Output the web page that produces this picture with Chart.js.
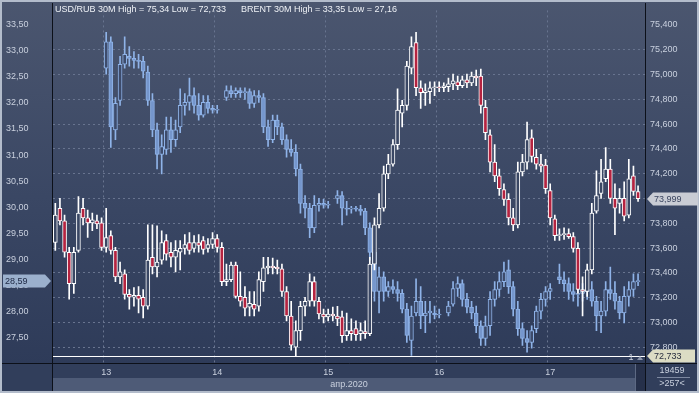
<!DOCTYPE html>
<html><head><meta charset="utf-8">
<script src="https://cdn.jsdelivr.net/npm/chart.js@4.4.1/dist/chart.umd.min.js"></script>
<style>html,body{margin:0;padding:0;background:#2c3957;}canvas{display:block}</style>
</head><body>
<canvas id="c" width="699" height="393"></canvas>
<script>
// hourly slots, hours counted from 13 Apr 2020 00:00
const hours = [-11,-10,-9,-8,-7,-6,-5,-4,-3,-2,-1,0,1,2,3,4,5,6,7,8,9,10,11,12,13,14,15,16,17,18,19,20,21,22,23,24,25,26,27,28,29,30,31,32,33,34,35,36,37,38,39,40,41,42,43,44,45,46,47,48,49,50,51,52,53,54,55,56,57,58,59,60,61,62,63,64,65,66,67,68,69,70,71,72,73,74,75,76,77,78,79,80,81,82,83,84,85,86,87,88,89,90,91,92,93,94,95,96,97,98,99,100,101,102,103,104,105,106,107,108,109,110,111,112,113,114,115,116];
const dayStarts = [0,24,48,72,96];
const dayLabels = ['13','14','15','16','17'];
const monthLabel = 'апр.2020';
const brentTicks = [27.5,28,28.5,29,29.5,30,30.5,31,31.5,32,32.5,33,33.5];
const usdTicks = [72.8,73,73.2,73.4,73.6,73.8,74,74.2,74.4,74.6,74.8,75,75.2,75.4];
const usdName = 'USD/RUB 30M';
const brentName = 'BRENT 30M';
const barCountText = '>257<';
const volumeText = '19459';

const usdOpen = [
73.645,73.921,73.819,73.566,73.313,73.582,73.921,73.843,73.803,73.819,
73.803,73.606,73.700,73.582,73.368,73.392,73.226,73.203,73.218,73.203,
73.131,73.526,73.447,73.503,73.661,73.566,73.526,73.566,73.598,73.645,
73.598,73.645,73.661,73.598,73.629,73.677,73.606,73.329,73.345,73.463,
73.210,73.203,73.124,73.147,73.131,73.329,73.440,73.455,73.447,73.432,
73.250,73.052,72.800,72.934,73.131,73.171,73.329,73.171,73.068,73.045,
73.068,73.052,73.045,72.894,72.934,72.950,72.910,72.926,72.910,73.471,
73.787,73.921,74.198,74.277,74.435,74.688,74.751,75.051,75.257,74.893,
74.854,74.862,74.893,74.901,74.893,74.901,74.925,74.941,74.909,74.956,
74.933,74.988,74.988,74.735,74.514,74.293,74.182,74.072,73.993,73.843,
73.787,74.214,74.293,74.490,74.332,74.277,74.269,74.064,73.835,73.700,
73.708,73.716,73.692,73.598,73.266,73.250,73.424,73.898,74.040,74.159,
74.237,74.001,73.961,74.001,73.866,74.182,74.056];
const usdHigh = [
73.961,74.001,73.866,73.606,73.606,74.016,74.001,73.906,73.882,73.866,
73.843,73.921,73.740,73.606,73.487,73.424,73.266,73.282,73.289,73.266,
73.787,73.787,73.779,73.740,73.708,73.645,73.661,73.661,73.708,73.724,
73.700,73.708,73.692,73.677,73.724,73.708,73.645,73.471,73.487,73.487,
73.408,73.289,73.250,73.250,73.408,73.526,73.526,73.519,73.503,73.471,
73.289,73.171,73.013,73.171,73.203,73.392,73.368,73.203,73.108,73.108,
73.124,73.131,73.092,73.076,73.029,73.013,72.997,73.013,73.526,73.843,
74.040,74.261,74.356,74.475,74.885,74.791,75.106,75.304,75.340,74.948,
74.925,74.941,74.941,74.941,74.933,74.972,75.004,74.988,74.988,75.004,
75.020,75.035,75.043,74.791,74.554,74.435,74.237,74.119,74.040,73.921,
74.293,74.356,74.617,74.554,74.396,74.356,74.316,74.119,73.866,73.756,
73.763,73.756,73.724,73.645,73.368,73.471,73.961,74.222,74.316,74.411,
74.316,74.119,74.079,74.135,74.316,74.261,74.103];
const usdLow = [
73.582,73.787,73.526,73.187,73.234,73.566,73.787,73.685,73.740,73.756,
73.582,73.566,73.550,73.329,73.313,73.187,73.108,73.131,73.076,73.037,
73.108,73.392,73.368,73.471,73.503,73.447,73.408,73.424,73.550,73.550,
73.566,73.566,73.550,73.566,73.598,73.566,73.297,73.297,73.329,73.195,
73.131,73.052,73.052,73.052,73.092,73.250,73.392,73.392,73.392,73.210,
73.013,72.776,72.733,72.855,73.052,73.131,73.131,73.029,72.997,73.013,
73.013,72.974,72.839,72.855,72.855,72.855,72.855,72.871,72.894,73.424,
73.763,73.898,74.159,74.261,74.396,74.577,74.712,75.004,74.830,74.727,
74.751,74.767,74.830,74.862,74.862,74.862,74.877,74.877,74.893,74.893,
74.909,74.909,74.688,74.475,74.214,74.135,74.024,73.945,73.787,73.740,
73.763,74.182,74.237,74.293,74.237,74.214,74.040,73.787,73.661,73.661,
73.669,73.677,73.566,73.234,73.052,73.210,73.392,73.882,74.001,74.135,
73.961,73.708,73.882,73.819,73.843,74.024,73.977];
const usdClose = [
73.866,73.819,73.566,73.313,73.566,73.882,73.843,73.803,73.827,73.795,
73.606,73.685,73.582,73.368,73.408,73.226,73.203,73.218,73.187,73.131,
73.503,73.447,73.487,73.645,73.550,73.526,73.582,73.598,73.629,73.582,
73.645,73.621,73.590,73.629,73.677,73.606,73.329,73.345,73.463,73.210,
73.171,73.116,73.155,73.108,73.345,73.440,73.455,73.440,73.432,73.250,
73.052,72.816,72.934,73.131,73.171,73.329,73.171,73.068,73.045,73.068,
73.052,73.029,72.894,72.934,72.910,72.902,72.934,72.910,73.471,73.787,
73.921,74.198,74.277,74.435,74.712,74.751,75.067,75.225,74.893,74.854,
74.869,74.893,74.901,74.893,74.909,74.925,74.948,74.909,74.956,74.933,
74.988,74.972,74.751,74.530,74.293,74.182,74.079,73.993,73.843,73.787,
74.214,74.293,74.475,74.340,74.277,74.261,74.079,73.843,73.700,73.708,
73.716,73.692,73.598,73.266,73.250,73.424,73.882,74.024,74.135,74.237,
74.001,73.921,74.001,73.858,74.159,74.056,73.999];

const brentOpen = [
null,null,null,null,null,null,null,null,null,null,null,
32.664,33.170,31.482,32.045,32.739,32.889,32.852,32.814,32.795,32.589,
32.045,31.482,31.013,31.107,31.482,31.295,31.539,31.951,32.007,32.139,
31.951,31.764,32.007,31.895,31.857,null,32.101,32.233,32.176,32.233,
32.195,32.214,31.989,32.139,32.101,31.539,31.295,31.670,31.539,31.295,
31.107,31.051,30.732,30.075,29.981,29.606,30.038,30.075,30.038,null,
30.169,30.225,29.981,29.963,29.981,29.963,29.925,29.606,29.137,28.387,
28.669,28.387,28.481,28.425,28.350,28.050,27.449,27.974,28.199,27.918,
27.974,27.974,27.937,null,27.974,28.143,28.444,28.537,28.237,28.087,
27.974,27.731,27.487,27.731,28.237,28.425,28.575,28.800,28.481,28.050,
27.674,27.487,27.412,27.674,28.012,28.237,28.387,null,28.669,28.612,
28.537,28.387,28.331,28.350,28.387,28.425,28.199,27.918,28.012,28.425,
28.350,28.199,27.974,28.293,28.425,28.575];
const brentHigh = [
null,null,null,null,null,null,null,null,null,null,null,
33.350,33.264,32.101,32.889,33.264,33.077,32.983,32.927,32.889,32.702,
32.176,31.614,31.389,31.726,31.726,31.670,32.270,32.176,32.476,32.289,
32.176,32.139,32.139,31.951,31.951,null,32.326,32.326,32.289,32.289,
32.289,32.270,32.233,32.233,32.176,31.670,31.764,31.764,31.614,31.389,
31.295,31.201,30.826,30.225,30.075,30.225,30.169,30.150,30.113,null,
30.319,30.300,30.113,30.019,30.019,30.038,29.981,29.700,29.231,28.856,
28.762,28.575,28.612,28.575,28.425,28.162,28.106,28.631,28.481,28.199,
28.199,28.106,28.050,null,28.199,28.575,28.669,28.612,28.350,28.199,
28.106,27.824,27.918,28.387,28.575,28.762,28.950,28.987,28.575,28.199,
27.787,27.637,27.731,28.106,28.350,28.481,28.537,null,28.912,28.762,
28.650,28.537,28.481,28.537,28.518,28.575,28.293,28.199,28.575,28.856,
28.575,28.293,28.481,28.575,28.725,28.725];
const brentLow = [
null,null,null,null,null,null,null,null,null,null,null,
32.551,31.145,31.295,31.951,32.664,32.702,32.664,32.664,32.476,31.951,
31.351,30.732,30.638,31.013,31.051,31.163,31.426,31.764,31.857,31.801,
31.670,31.726,31.801,31.801,31.801,null,32.045,32.101,32.101,32.101,
32.064,31.895,31.914,32.007,31.426,31.163,31.238,31.389,31.201,30.957,
30.976,30.601,29.888,29.794,29.419,29.513,29.925,29.981,29.981,null,
30.075,29.663,29.850,29.888,29.925,29.850,29.475,28.987,28.199,27.974,
28.199,28.293,28.350,28.199,27.974,27.412,27.160,27.918,27.674,27.599,
27.787,27.862,27.881,null,27.918,28.106,28.293,28.106,27.974,27.862,
27.599,27.356,27.356,27.543,28.106,28.293,28.481,28.350,27.918,27.543,
27.356,27.224,27.299,27.599,27.862,28.106,28.237,null,28.537,28.387,
28.237,28.199,28.106,28.199,28.237,28.106,27.637,27.599,27.918,28.237,
28.050,27.862,27.787,28.106,28.293,28.500];
const brentClose = [
null,null,null,null,null,null,null,null,null,null,null,
33.170,31.539,31.989,32.739,32.927,32.852,32.814,32.795,32.608,32.045,
31.482,31.013,31.163,31.482,31.295,31.482,31.951,32.007,32.139,31.951,
31.764,32.007,31.895,31.857,31.876,null,32.233,32.176,32.233,32.195,
32.214,31.989,32.139,32.101,31.539,31.295,31.670,31.539,31.295,31.107,
31.051,30.732,30.075,29.981,29.606,30.038,30.075,30.038,30.057,null,
30.225,29.981,29.963,29.981,29.963,29.925,29.606,29.137,28.387,28.669,
28.387,28.481,28.425,28.350,28.050,27.543,27.918,28.199,27.918,27.974,
28.012,27.937,27.956,null,28.106,28.444,28.537,28.237,28.087,27.974,
27.731,27.487,27.731,28.237,28.425,28.575,28.762,28.481,28.050,27.674,
27.487,27.412,27.637,28.012,28.237,28.387,28.444,null,28.612,28.537,
28.387,28.331,28.350,28.387,28.425,28.199,27.918,28.012,28.425,28.350,
28.199,27.974,28.293,28.425,28.575,28.590];

// ---------- helpers ----------
const fmt = (v, d) => v.toFixed(d).replace('.', ',');
const fmtTrim = v => v.toFixed(3).replace(/0+$/, '').replace(/\.$/, '').replace('.', ',');
const valid = a => a.filter(v => v != null);
const lastOf = a => valid(a)[valid(a).length - 1];
const usdHi = Math.max(...valid(usdHigh)), usdLo = Math.min(...valid(usdLow));
const brHi = Math.max(...valid(brentHigh)), brLo = Math.min(...valid(brentLow));
const wick = (lo, hi) => lo.map((l, i) => l == null ? null : [l, hi[i]]);
const body = (o, c) => o.map((v, i) => v == null ? null : [Math.min(v, c[i]), Math.max(v, c[i])]);
const bodyColors = (o, c, down, up) => o.map((v, i) => (v != null && c[i] < v) ? down : up);

const FAM = '"Liberation Sans", Arial, sans-serif';
const TXT = '#c9d0de';
const GRID = '#68748f';
const font = { family: FAM, size: 9 };

const decor = {
  id: 'decor',
  beforeDraw(chart) {
    const { ctx, width, height, chartArea: a } = chart;
    ctx.save();
    const g = ctx.createLinearGradient(0, 0, 0, height);
    g.addColorStop(0, '#4b566f');
    g.addColorStop(0.5, '#3a4764');
    g.addColorStop(1, '#2c3957');
    ctx.fillStyle = g;
    ctx.fillRect(0, 0, width, height);
    ctx.fillStyle = '#313e5b';
    ctx.fillRect(0, a.bottom, width, height - a.bottom);
    ctx.fillStyle = '#4e5b77';
    ctx.fillRect(a.left, a.bottom + 15, a.right - a.left, height - a.bottom - 17);
    ctx.fillStyle = '#26304a';
    ctx.fillRect(a.right - 9, a.bottom, 9, height - a.bottom - 2);
    ctx.fillStyle = '#5d6983';
    ctx.fillRect(a.right - 10, a.bottom, 1, height - a.bottom - 2);
    ctx.restore();
  },
  afterDatasetsDraw(chart) {
    const { ctx, chartArea: a, scales } = chart;
    const y = Math.round(scales.yR.getPixelForValue(usdLo)) + 0.5;
    ctx.save();
    ctx.strokeStyle = '#ffffff';
    ctx.lineWidth = 1;
    ctx.beginPath(); ctx.moveTo(a.left, y); ctx.lineTo(a.right, y); ctx.stroke();
    ctx.restore();
  },
  afterDraw(chart) {
    const { ctx, width, height, chartArea: a, scales } = chart;
    ctx.save();
    // black frame lines
    ctx.strokeStyle = '#0c1019';
    ctx.lineWidth = 1;
    ctx.beginPath();
    ctx.moveTo(a.left - 0.5, 3); ctx.lineTo(a.left - 0.5, height - 2);
    ctx.moveTo(a.right + 0.5, 3); ctx.lineTo(a.right + 0.5, height - 2);
    ctx.moveTo(2, a.bottom + 0.5); ctx.lineTo(width - 2, a.bottom + 0.5);
    ctx.stroke();
    // outer light frame
    ctx.strokeStyle = '#b3bccb';
    ctx.lineWidth = 2;
    ctx.strokeRect(1, 1, width - 2, height - 2);

    ctx.font = '9px ' + FAM;
    ctx.textBaseline = 'middle';
    // titles
    ctx.fillStyle = '#eef1f6';
    ctx.textAlign = 'left';
    ctx.fillText(usdName + ' High = ' + fmtTrim(usdHi) + ' Low = ' + fmtTrim(usdLo), a.left + 2, 10);
    ctx.fillText(brentName + ' High = ' + fmtTrim(brHi) + ' Low = ' + fmtTrim(brLo), a.left + 188, 10);

    // month label
    ctx.fillStyle = TXT;
    ctx.textAlign = 'center';
    ctx.fillText(monthLabel, (a.left + a.right) / 2, a.bottom + 22);
    // right-bottom panel
    const cx = (a.right + width) / 2;
    ctx.fillText(volumeText, cx, a.bottom + 8);
    ctx.fillText(barCountText, cx, a.bottom + 21);
    ctx.fillStyle = '#7d88a0';
    ctx.fillRect(a.right + 12, a.bottom + 14, 33, 1);
    // "1" marker
    ctx.fillStyle = TXT;
    ctx.fillText('1', a.right - 14, a.bottom - 5);
    ctx.fillStyle = '#8a94aa';
    ctx.beginPath();
    ctx.moveTo(a.right - 8, a.bottom - 3); ctx.lineTo(a.right - 5, a.bottom - 7); ctx.lineTo(a.right - 2, a.bottom - 3);
    ctx.closePath(); ctx.fill();

    // price tags
    const tag = (tip, far, yc, fill, text, tx, tcol) => {
      const h = 13, dir = far > tip ? 1 : -1;
      ctx.beginPath();
      ctx.moveTo(tip, yc);
      ctx.lineTo(tip + dir * 6, yc - h / 2);
      ctx.lineTo(far, yc - h / 2);
      ctx.lineTo(far, yc + h / 2);
      ctx.lineTo(tip + dir * 6, yc + h / 2);
      ctx.closePath();
      ctx.fillStyle = fill; ctx.fill();
      ctx.fillStyle = tcol; ctx.textAlign = 'left';
      ctx.fillText(text, tx, yc + 0.5);
    };
    const yB = Math.round(scales.yL.getPixelForValue(lastOf(brentClose)));
    tag(a.left - 2, 3, yB, '#9bb0cd', fmt(lastOf(brentClose), 2), 5, '#1d2742');
    const yU = Math.round(scales.yR.getPixelForValue(lastOf(usdClose)));
    tag(a.right + 2, width - 1, yU, '#c9ccd4', fmt(lastOf(usdClose), 3), a.right + 9, '#3b4560');
    const yLo = Math.round(scales.yR.getPixelForValue(usdLo));
    tag(a.right + 2, width - 4, yLo, '#dcdcc4', fmt(usdLo, 3), a.right + 9, '#2a2f40');
    ctx.restore();
  }
};

new Chart(document.getElementById('c'), {
  type: 'bar',
  data: {
    labels: hours,
    datasets: [
      { label: 'USD body', data: body(usdOpen, usdClose), yAxisID: 'yR', barThickness: 4, grouped: false,
        borderWidth: 1, borderSkipped: false, borderColor: '#ffffff', minBarLength: 1,
        backgroundColor: bodyColors(usdOpen, usdClose, '#b52340', '#3a4764') },
      { label: 'USD wick', data: wick(usdLow, usdHigh), yAxisID: 'yR', barThickness: 1, grouped: false,
        borderWidth: 0, backgroundColor: '#ffffff' },
      { label: 'Brent body', data: body(brentOpen, brentClose), yAxisID: 'yL', barThickness: 4, grouped: false,
        borderWidth: 1, borderSkipped: false, borderColor: '#8fb3e8', minBarLength: 1,
        backgroundColor: bodyColors(brentOpen, brentClose, '#7596cc', '#3d4b6b') },
      { label: 'Brent wick', data: wick(brentLow, brentHigh), yAxisID: 'yL', barThickness: 1, grouped: false,
        borderWidth: 0, backgroundColor: '#8fb3e8' }
    ]
  },
  options: {
    responsive: false,
    animation: false,
    devicePixelRatio: 1,
    layout: { padding: { left: 6, right: 0, top: 3, bottom: 0 } },
    plugins: { legend: { display: false }, tooltip: { enabled: false } },
    scales: {
      x: {
        type: 'category', offset: true,
        grid: { offset: true, drawTicks: false, lineWidth: 1,
          color: c => (c.tick && dayStarts.includes(hours[c.index])) ? GRID : 'rgba(0,0,0,0)' },
        border: { display: false, dash: [2, 3] },
        ticks: { autoSkip: false, maxRotation: 0, minRotation: 0, padding: 4, color: TXT, font,
          callback: (v, i) => { const k = dayStarts.indexOf(hours[i]); return k >= 0 ? dayLabels[k] : ''; } },
        afterFit: s => { s.height = 30; }
      },
      yL: {
        position: 'left', min: 27.017, max: 33.770,
        grid: { display: false }, border: { display: false },
        afterBuildTicks: s => { s.ticks = brentTicks.map(v => ({ value: v })); },
        ticks: { crossAlign: 'far', color: TXT, font, callback: v => fmt(v, 2) },
        afterFit: s => { s.width = 47; }
      },
      yR: {
        position: 'right', min: 72.673, max: 75.517,
        grid: { drawTicks: false, lineWidth: 1,
          color: c => (c.tick && c.tick.value < 75.3) ? GRID : 'rgba(0,0,0,0)' },
        border: { display: false, dash: [2, 3] },
        afterBuildTicks: s => { s.ticks = usdTicks.map(v => ({ value: v })); },
        ticks: { padding: 5, color: TXT, font, callback: v => fmt(v, 3) },
        afterFit: s => { s.width = 54; }
      }
    }
  },
  plugins: [decor]
});
</script>
</body></html>
